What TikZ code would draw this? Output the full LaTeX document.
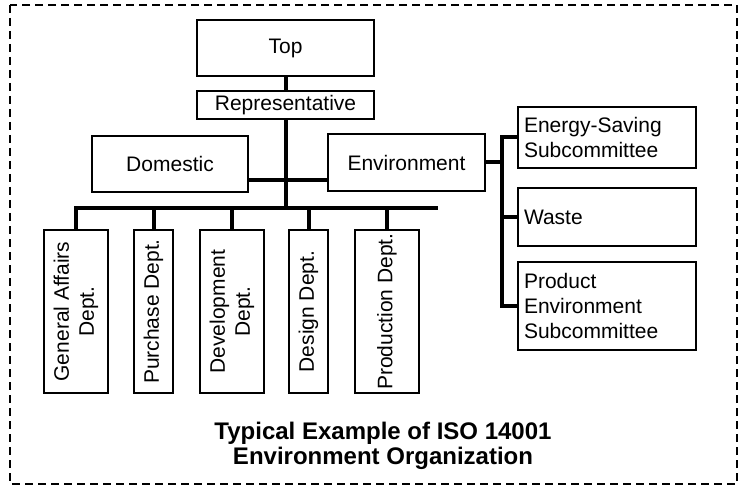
\documentclass[tikz,border=0pt]{standalone}
\usepackage{fontspec}
\setmainfont{Liberation Sans}
\begin{document}
\begin{tikzpicture}[x=1pt,y=-1pt,
  box/.style={draw, line width=2pt, inner sep=0pt, font=\fontsize{21}{25}\selectfont, align=center},
  sub/.style={draw, line width=2pt, inner ysep=0pt, inner xsep=6pt, text width=166pt, minimum width=178pt, align=left, font=\fontsize{21}{25}\selectfont},
  dept/.style={draw, line width=2pt, inner sep=0pt, minimum height=163pt},
  vtext/.style={rotate=90, align=center, inner sep=0pt, font=\fontsize{21}{25}\selectfont},
  conn/.style={line width=4pt},
]
\useasboundingbox (0,0) rectangle (743,486);
\draw[line width=1.5pt, dash pattern=on 8pt off 5pt] (10,5) rectangle (737,484);

\node[box, minimum width=177pt, minimum height=56pt] (top) at (285.5,48) {Top};
\node[box, minimum width=177pt, minimum height=28pt] (rep) at (285.5,105) {Representative};
\node[box, minimum width=156pt, minimum height=56pt] (dom) at (170,164) {Domestic};
\node[box, minimum width=157pt, minimum height=57pt] (env) at (406.5,162.5) {Environment};

\node[sub, minimum height=61pt] (es) at (607,137.5) {Energy-Saving\\Subcommittee};
\node[sub, minimum height=58pt] (waste) at (607,217) {Waste};
\node[sub, minimum height=88pt] (prod) at (607,306) {Product\\Environment\\Subcommittee};

\node[dept, minimum width=64pt] (ga) at (76,311.5) {};
\node[dept, minimum width=39pt] (pu) at (153.5,311.5) {};
\node[dept, minimum width=64pt] (dv) at (232,311.5) {};
\node[dept, minimum width=39pt] (de) at (308.5,311.5) {};
\node[dept, minimum width=64pt] (pr) at (387,311.5) {};
\node[vtext] (gat) at (ga) {General Affairs\\Dept.};
\node[vtext] (put) at (pu) {Purchase Dept.};
\node[vtext] (dvt) at (dv) {Development\\Dept.};
\node[vtext] (det) at (de) {Design Dept.};
\node[vtext] (prt) at (pr) {Production Dept.};

\coordinate (bus) at (285.5,208);
\coordinate (busR) at (438,208);
\coordinate (br) at (285.5,180);
\coordinate (sp) at (502,163);

\draw[conn] (top.south) -- (rep.north);
\draw[conn] (rep.south) -- (bus);
\draw[conn] (dom.east |- br) -- (env.west |- br);
\draw[conn] (ga.north) -- (ga.north |- bus) -- (busR);
\draw[conn] (pu.north) -- (pu.north |- bus);
\draw[conn] (dv.north) -- (dv.north |- bus);
\draw[conn] (de.north) -- (de.north |- bus);
\draw[conn] (pr.north) -- (pr.north |- bus);

\draw[conn] (env.east) -- (env.east -| sp);
\draw[conn] (es.west) -- (es.west -| sp) -- (prod.west -| sp) -- (prod.west);
\draw[conn] (waste.west) -- (waste.west -| sp);

\node[align=center, inner sep=0pt, font=\bfseries\fontsize{24}{25}\selectfont] (title) at (383,446) {Typical Example of ISO 14001\\Environment Organization};
\end{tikzpicture}
\end{document}
